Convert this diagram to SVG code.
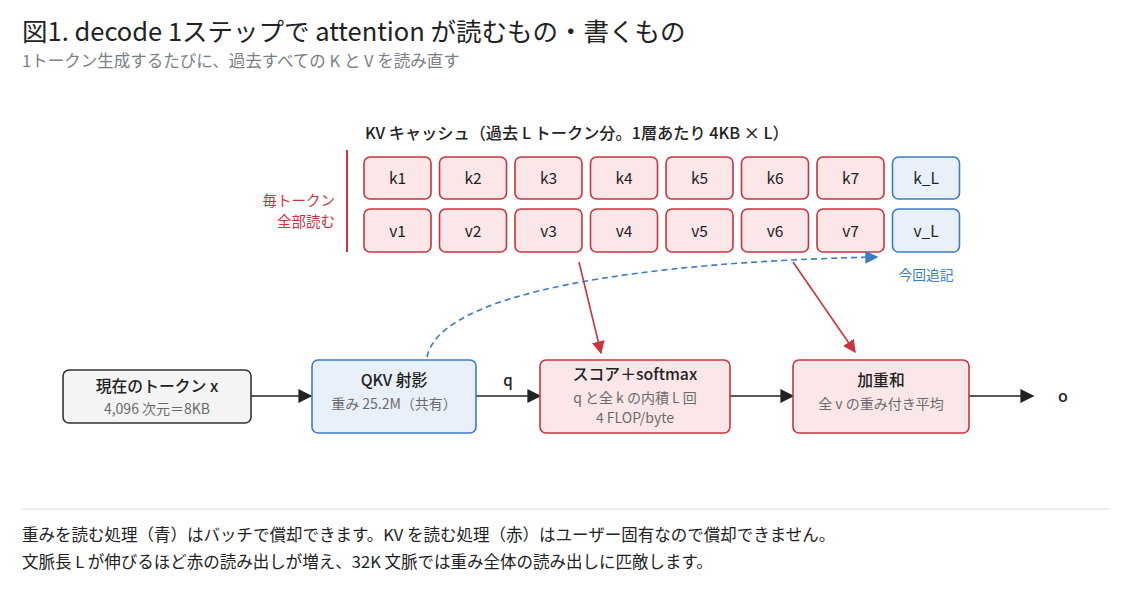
<svg xmlns="http://www.w3.org/2000/svg" width="1134" height="601" viewBox="0 0 1134 601">
<style>
text{font-family:"Noto Sans CJK JP","Noto Sans",sans-serif;fill:#222}
.red rect{fill:#fbe6e8;stroke:#c8343f;stroke-width:1.6}
.blue rect{fill:#e8f0fa;stroke:#3c7cc4;stroke-width:1.6}
.gray rect{fill:#f3f4f3;stroke:#333;stroke-width:1.6}
.cell{font-size:15.5px;text-anchor:middle}
.t{font-size:15.8px;text-anchor:middle;font-weight:500}
.s{font-size:14px;text-anchor:middle;fill:#6b6b6b}
.foot{font-size:16.5px;fill:#222}
</style>
<defs>
<marker id="ab" viewBox="0 0 10 10" refX="9" refY="5" markerWidth="15" markerHeight="14" markerUnits="userSpaceOnUse" orient="auto"><path d="M0,0L10,5L0,10z" fill="#222"/></marker>
<marker id="ar" viewBox="0 0 10 10" refX="9" refY="5" markerWidth="13" markerHeight="13" markerUnits="userSpaceOnUse" orient="auto"><path d="M0,0L10,5L0,10z" fill="#c8343f"/></marker>
<marker id="au" viewBox="0 0 10 10" refX="9" refY="5" markerWidth="13" markerHeight="13" markerUnits="userSpaceOnUse" orient="auto"><path d="M0,0L10,5L0,10z" fill="#3c7cc4"/></marker>
</defs>
<rect width="1134" height="601" fill="#fff"/>
<text x="22" y="41" style="font-size:25.5px;font-weight:400">図1. decode 1ステップで attention が読むもの・書くもの</text>
<text x="22" y="67" style="font-size:16.5px;fill:#7a7f87">1トークン生成するたびに、過去すべての K と V を読み直す</text>

<text x="365" y="139" style="font-size:16.2px;font-weight:500">KV キャッシュ（過去 L トークン分。1層あたり 4KB × L）</text>
<line x1="347" y1="150" x2="347" y2="252" stroke="#c8343f" stroke-width="2"/>
<text x="335" y="206" style="font-size:14.5px;fill:#c8343f;text-anchor:end">毎トークン</text>
<text x="335" y="227" style="font-size:14.5px;fill:#c8343f;text-anchor:end">全部読む</text>

<g id="cache">
<g id="k1" class="red"><rect x="364" y="157" width="67" height="42" rx="6"/><text class="cell" x="397.5" y="184">k1</text></g>
<g id="k2" class="red"><rect x="439.5" y="157" width="67" height="42" rx="6"/><text class="cell" x="473" y="184">k2</text></g>
<g id="k3" class="red"><rect x="515" y="157" width="67" height="42" rx="6"/><text class="cell" x="548.5" y="184">k3</text></g>
<g id="k4" class="red"><rect x="590.5" y="157" width="67" height="42" rx="6"/><text class="cell" x="624" y="184">k4</text></g>
<g id="k5" class="red"><rect x="666" y="157" width="67" height="42" rx="6"/><text class="cell" x="699.5" y="184">k5</text></g>
<g id="k6" class="red"><rect x="741.5" y="157" width="67" height="42" rx="6"/><text class="cell" x="775" y="184">k6</text></g>
<g id="k7" class="red"><rect x="817" y="157" width="67" height="42" rx="6"/><text class="cell" x="850.5" y="184">k7</text></g>
<g id="kL" class="blue"><rect x="892.5" y="157" width="67" height="42" rx="6"/><text class="cell" x="926" y="184">k_L</text></g>
<g id="v1" class="red"><rect x="364" y="209" width="67" height="43" rx="6"/><text class="cell" x="397.5" y="236.5">v1</text></g>
<g id="v2" class="red"><rect x="439.5" y="209" width="67" height="43" rx="6"/><text class="cell" x="473" y="236.5">v2</text></g>
<g id="v3" class="red"><rect x="515" y="209" width="67" height="43" rx="6"/><text class="cell" x="548.5" y="236.5">v3</text></g>
<g id="v4" class="red"><rect x="590.5" y="209" width="67" height="43" rx="6"/><text class="cell" x="624" y="236.5">v4</text></g>
<g id="v5" class="red"><rect x="666" y="209" width="67" height="43" rx="6"/><text class="cell" x="699.5" y="236.5">v5</text></g>
<g id="v6" class="red"><rect x="741.5" y="209" width="67" height="43" rx="6"/><text class="cell" x="775" y="236.5">v6</text></g>
<g id="v7" class="red"><rect x="817" y="209" width="67" height="43" rx="6"/><text class="cell" x="850.5" y="236.5">v7</text></g>
<g id="vL" class="blue"><rect x="892.5" y="209" width="67" height="43" rx="6"/><text class="cell" x="926" y="236.5">v_L</text></g>
</g>
<text x="926" y="280" style="font-size:13.8px;fill:#3c7cc4;text-anchor:middle">今回追記</text>

<g id="connectors" fill="none">
<line x1="251" y1="396" x2="311" y2="396" stroke="#222" stroke-width="1.6" marker-end="url(#ab)"/>
<line x1="476" y1="396" x2="540" y2="396" stroke="#222" stroke-width="1.6" marker-end="url(#ab)"/>
<line x1="730" y1="396" x2="793" y2="396" stroke="#222" stroke-width="1.6" marker-end="url(#ab)"/>
<line x1="969" y1="396" x2="1033" y2="396" stroke="#222" stroke-width="1.6" marker-end="url(#ab)"/>
<line x1="579" y1="262" x2="601" y2="353" stroke="#c8343f" stroke-width="1.6" marker-end="url(#ar)"/>
<line x1="793" y1="262" x2="855" y2="352" stroke="#c8343f" stroke-width="1.6" marker-end="url(#ar)"/>
<path d="M427,357 C440,292 640,262 877,257" stroke="#3c7cc4" stroke-width="1.6" stroke-dasharray="6,4" marker-end="url(#au)"/>
</g>
<text x="508" y="386" style="font-size:15px;text-anchor:middle;font-weight:500">q</text>
<text x="1063" y="402" style="font-size:16px;text-anchor:middle;font-weight:500">o</text>

<g id="token" class="gray"><rect x="63" y="370" width="188" height="53" rx="6"/><text class="t" x="157" y="392">現在のトークン x</text><text class="s" x="157" y="414">4,096 次元＝8KB</text></g>
<g id="qkv" class="blue"><rect x="312" y="360" width="164" height="73" rx="6"/><text class="t" x="394" y="386">QKV 射影</text><text class="s" x="394" y="409">重み 25.2M（共有）</text></g>
<g id="score" class="red"><rect x="540" y="360" width="190" height="73" rx="6"/><text class="t" x="635" y="380">スコア＋softmax</text><text class="s" x="635" y="403">q と全 k の内積 L 回</text><text class="s" x="635" y="423">4 FLOP/byte</text></g>
<g id="wsum" class="red"><rect x="793" y="360" width="176" height="73" rx="6"/><text class="t" x="881" y="386">加重和</text><text class="s" x="881" y="409">全 v の重み付き平均</text></g>

<line x1="22" y1="509" x2="1110" y2="509" stroke="#ddd" stroke-width="1.2"/>
<text class="foot" x="22" y="541">重みを読む処理（青）はバッチで償却できます。KV を読む処理（赤）はユーザー固有なので償却できません。</text>
<text class="foot" x="22" y="568">文脈長 L が伸びるほど赤の読み出しが増え、32K 文脈では重み全体の読み出しに匹敵します。</text>
</svg>
